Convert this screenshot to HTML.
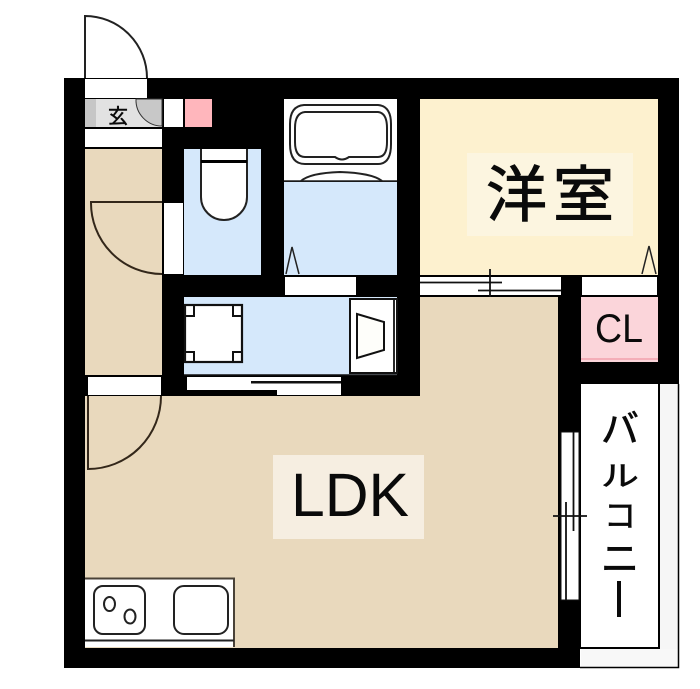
<!DOCTYPE html>
<html><head><meta charset="utf-8"><style>
html,body{margin:0;padding:0;background:#fff;width:700px;height:689px;overflow:hidden}
svg{display:block}
text{font-family:"Liberation Sans","Noto Sans CJK JP",sans-serif;fill:#0a0a0a}
</style></head><body>
<svg width="700" height="689" viewBox="0 0 700 689" xmlns="http://www.w3.org/2000/svg">
<rect width="700" height="689" fill="#fff"/>
<!-- outer wall -->
<rect x="64" y="78" width="615" height="590" fill="#000"/>
<!-- balcony -->
<rect x="580" y="384" width="99" height="284" fill="#fff"/>
<rect x="660" y="384" width="18" height="283" fill="#f6f6f6"/>
<rect x="581" y="649" width="97" height="18" fill="#f8f8f8"/>
<path d="M580 384V648H659V384" fill="#fff" stroke="#000" stroke-width="2"/>
<path d="M678.500 384V667.500H580" fill="none" stroke="#000" stroke-width="1.500"/>
<!-- entrance door -->
<path d="M85 78V16A62 62 0 0 1 147 78" fill="#fff" stroke="#222" stroke-width="2"/>
<rect x="85" y="79" width="62" height="19" fill="#fff"/>
<!-- genkan -->
<rect x="85" y="99" width="77" height="28" fill="#e2e2e2"/>
<rect x="85" y="99" width="11" height="28" fill="#c6c6c6"/>
<path d="M136 99H162V126A26 26 0 0 1 136 99Z" fill="#c8c8c8" stroke="#333" stroke-width="1"/>
<rect x="85" y="129" width="77" height="18" fill="#fff"/>
<rect x="164" y="99" width="19" height="28" fill="#fff"/>
<rect x="185" y="99" width="27" height="28" fill="#ffb6bc"/>
<!-- corridor -->
<rect x="85" y="149" width="77" height="226" fill="#e9d9bd"/>
<path d="M162 202H91A71 71 0 0 0 162 274" fill="none" stroke="#33271a" stroke-width="2"/>
<!-- toilet -->
<rect x="184" y="149" width="77" height="126" fill="#d5e8fb"/>
<rect x="164" y="203" width="19" height="71" fill="#fff"/>
<path d="M201 149V197A23 23 0 0 0 247 197V149" fill="#fff" stroke="#222" stroke-width="2"/>
<rect x="201" y="160" width="46" height="3" fill="#000"/>
<!-- bath -->
<rect x="284" y="99" width="113" height="82" fill="#fff"/>
<rect x="284" y="182" width="113" height="93" fill="#d5e8fb"/>
<path d="M304 105H378Q391 106 391 124V144Q391 164 378 164H305Q290 164 290 144V124Q290 106 304 105Z" fill="#fff" stroke="#222" stroke-width="2"/>
<path d="M305 112H378Q387 113 387 128V142Q387 157 378 157H349Q342 162 335 157H305Q295 157 295 142V128Q295 113 305 112Z" fill="#fff" stroke="#222" stroke-width="2"/>
<path d="M301 181Q310 173 340 172Q372 173 382 181" fill="none" stroke="#222" stroke-width="2"/>
<line x1="284" y1="181" x2="397" y2="181" stroke="#222" stroke-width="1.500"/>
<path d="M286 274L292 247L299 274" fill="none" stroke="#222" stroke-width="1.500"/>
<rect x="285" y="277" width="71" height="18" fill="#fff"/>
<!-- western room -->
<rect x="420" y="99" width="238" height="176" fill="#fdf1cf"/>
<rect x="467" y="153" width="166" height="83" fill="#fcf5e0"/>
<path d="M642 274L649 246L656 274" fill="none" stroke="#222" stroke-width="1.500"/>
<text x="550" y="216" font-size="61" text-anchor="middle" textLength="128" lengthAdjust="spacing" stroke="#0a0a0a" stroke-width="1">洋室</text>
<!-- window strip -->
<rect x="420" y="277" width="141" height="18" fill="#fff"/>
<line x1="420" y1="282.500" x2="502" y2="282.500" stroke="#111" stroke-width="1.800"/>
<line x1="478" y1="290.500" x2="561" y2="290.500" stroke="#111" stroke-width="1.800"/>
<line x1="490" y1="269" x2="490" y2="304" stroke="#111" stroke-width="1.800"/>
<rect x="582" y="277" width="75" height="18" fill="#fff"/>
<!-- CL -->
<rect x="581" y="297" width="77" height="65" fill="#fbd5da"/>
<rect x="581" y="358" width="77" height="2" fill="#f4aeb8"/>
<text x="619" y="342" font-size="40" text-anchor="middle" textLength="48" lengthAdjust="spacingAndGlyphs">CL</text>
<!-- washroom -->
<rect x="184" y="297" width="213" height="78" fill="#d5e8fb"/>
<rect x="185" y="305" width="57" height="57" fill="#fff" stroke="#111" stroke-width="2.200"/>
<path d="M185 316H194V305M243 316H233V305M185 352H194V362M243 352H233V362" fill="none" stroke="#111" stroke-width="2"/>
<rect x="350" y="299" width="47" height="74" fill="#fff" stroke="#111" stroke-width="2"/>
<line x1="394" y1="299" x2="394" y2="373" stroke="#111" stroke-width="1.800"/>
<path d="M357 314L384 322V350L357 358Z" fill="#fefefa" stroke="#111" stroke-width="2"/>
<line x1="184" y1="375" x2="397" y2="375" stroke="#111" stroke-width="1.500"/>
<rect x="187" y="377" width="154" height="18" fill="#fff"/>
<rect x="251" y="381" width="90" height="2.500" fill="#111"/>
<rect x="187" y="390" width="90" height="5" fill="#000"/>
<!-- LDK -->
<path d="M420 297H558V648H85V396H420Z" fill="#e9d9bd"/>
<rect x="88" y="377" width="73" height="18" fill="#fff"/>
<path d="M88 396V469A73 73 0 0 0 161 396" fill="none" stroke="#33271a" stroke-width="2"/>
<rect x="273" y="455" width="151" height="84" fill="#f6eee1"/>
<text x="350" y="516" font-size="61" text-anchor="middle" textLength="118" lengthAdjust="spacingAndGlyphs">LDK</text>
<!-- kitchen -->
<rect x="85" y="578" width="149" height="69" fill="#fff"/>
<path d="M85 578.500H234V647" fill="none" stroke="#4a4238" stroke-width="2"/>
<line x1="85" y1="640.500" x2="234" y2="640.500" stroke="#222" stroke-width="2"/>
<rect x="94" y="586" width="51" height="48" rx="9" fill="#fff" stroke="#222" stroke-width="2"/>
<rect x="174" y="586" width="54" height="48" rx="10" fill="#fff" stroke="#222" stroke-width="2"/>
<ellipse cx="109.500" cy="604" rx="5.500" ry="7" fill="#fff" stroke="#222" stroke-width="2"/>
<ellipse cx="130" cy="616.500" rx="5.500" ry="7" fill="#fff" stroke="#222" stroke-width="2"/>
<!-- balcony window -->
<rect x="561" y="432" width="18" height="168" fill="#fff"/>
<path d="M561 432H579V600H561Z" fill="none" stroke="#111" stroke-width="1"/>
<line x1="573.500" y1="432" x2="573.500" y2="531" stroke="#111" stroke-width="1.800"/>
<line x1="566" y1="502" x2="566" y2="600" stroke="#111" stroke-width="1.800"/>
<line x1="553" y1="516" x2="587" y2="516" stroke="#111" stroke-width="1.800"/>
<!-- genkan label -->
<text x="118" y="123" font-size="20" text-anchor="middle" stroke="#0a0a0a" stroke-width=".5">玄</text>
<!-- balcony label -->
<text x="620" y="442" font-size="38" text-anchor="middle" stroke="#0a0a0a" stroke-width=".7">バ</text>
<text transform="translate(620 486) scale(1 .75)" x="0" y="0" font-size="38" text-anchor="middle" stroke="#0a0a0a" stroke-width=".7">ル</text>
<text transform="translate(620 527) scale(.85 .85)" x="0" y="0" font-size="38" text-anchor="middle" stroke="#0a0a0a" stroke-width=".7">コ</text>
<text x="620" y="572" font-size="38" text-anchor="middle" stroke="#0a0a0a" stroke-width=".7">ニ</text>
<rect x="617" y="581" width="4" height="36" fill="#0a0a0a"/>
</svg>
</body></html>
